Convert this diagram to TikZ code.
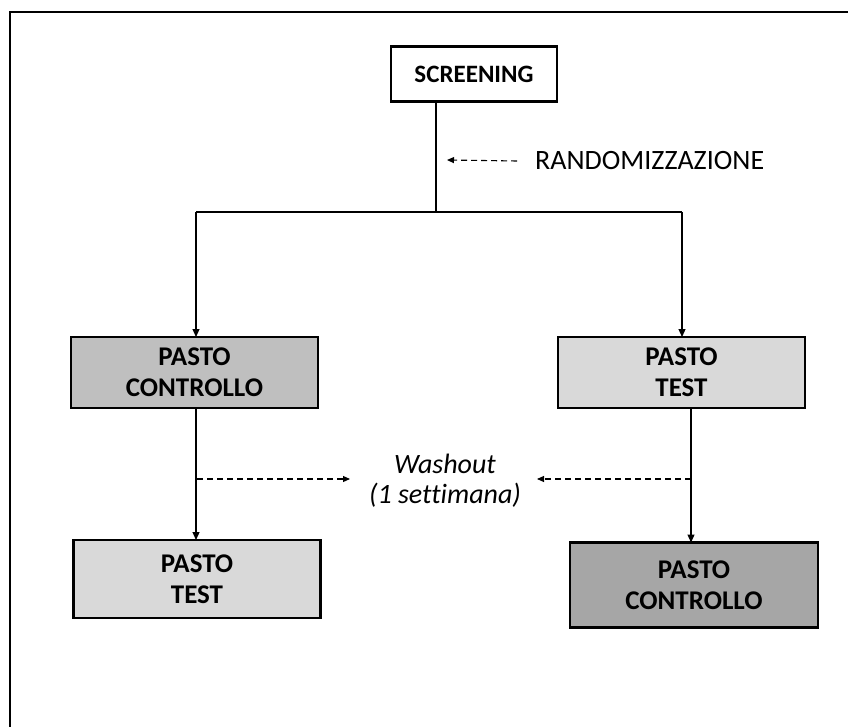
\documentclass[tikz,border=0pt]{standalone}
\usepackage{fontspec}
\setmainfont{Carlito}[Ligatures=NoCommon]
\usetikzlibrary{arrows.meta}
\definecolor{gmid}{HTML}{BFBFBF}
\definecolor{glight}{HTML}{D9D9D9}
\definecolor{gdark}{HTML}{A6A6A6}
\tikzset{
  boxnode/.style={draw, line width=2.2pt, align=center, font=\bfseries\fontsize{27}{31}\selectfont, inner sep=0pt, outer sep=0pt},
  conn/.style={line width=1.2pt, -{Triangle[length=8pt,width=7pt]}},
  plain/.style={line width=1.2pt},
  dashconn/.style={line width=1.1pt, dash pattern=on 6pt off 4pt, -{Triangle[length=7pt,width=6pt]}},
}
\begin{document}
\begin{tikzpicture}[x=1pt,y=-1pt]
\useasboundingbox (0,0) rectangle (848,727);
\draw[line width=2pt] (10,727) -- (10,12) -- (848,12);

\node[boxnode, fill=white, minimum width=166pt, minimum height=55pt, font=\bfseries\fontsize{25}{30}\selectfont] (scr) at (474,74) {SCREENING};
\node[boxnode, fill=gmid, minimum width=247pt, minimum height=71pt] (c1) at (194.5,372.5) {PASTO\\CONTROLLO};
\node[boxnode, fill=glight, minimum width=247pt, minimum height=71pt] (t1) at (681.5,372.5) {PASTO\\TEST};
\node[boxnode, fill=glight, minimum width=247pt, minimum height=78pt] (t2) at (197,579) {PASTO\\TEST};
\node[boxnode, fill=gdark, minimum width=248pt, minimum height=85pt] (c2) at (694,585) {PASTO\\CONTROLLO};

\coordinate (top) at (436,101);
\coordinate (br) at (436,212);
\coordinate (bl) at (196,212);
\coordinate (brr) at (682,212);
\draw[plain] (top) -- (br);
\draw[plain] (bl) -- (brr);
\draw[conn] (bl) -- (bl |- c1.north);
\draw[conn] (brr) -- (brr |- t1.north);
\draw[conn] (c1.south -| 196,0) -- (196,0 |- t2.north);
\draw[conn] (t1.south -| 691,0) -- (691,0 |- c2.north);

\node[anchor=west, font=\fontsize{28}{32}\selectfont, inner sep=0pt] (rand) at (535,161) {RANDOMIZZAZIONE};
\coordinate (randtip) at (447,160);
\draw[dashconn] ([xshift=-18pt]rand.west) -- (randtip);

\node[align=center, font=\itshape\fontsize{28}{30}\selectfont] (wash) at (445,481) {Washout\\(1 settimana)};
\coordinate (wl) at (350,479);
\coordinate (wr) at (537,479);
\draw[dashconn] (197,479) -- (wl);
\draw[dashconn] (691,479) -- (wr);
\end{tikzpicture}
\end{document}
